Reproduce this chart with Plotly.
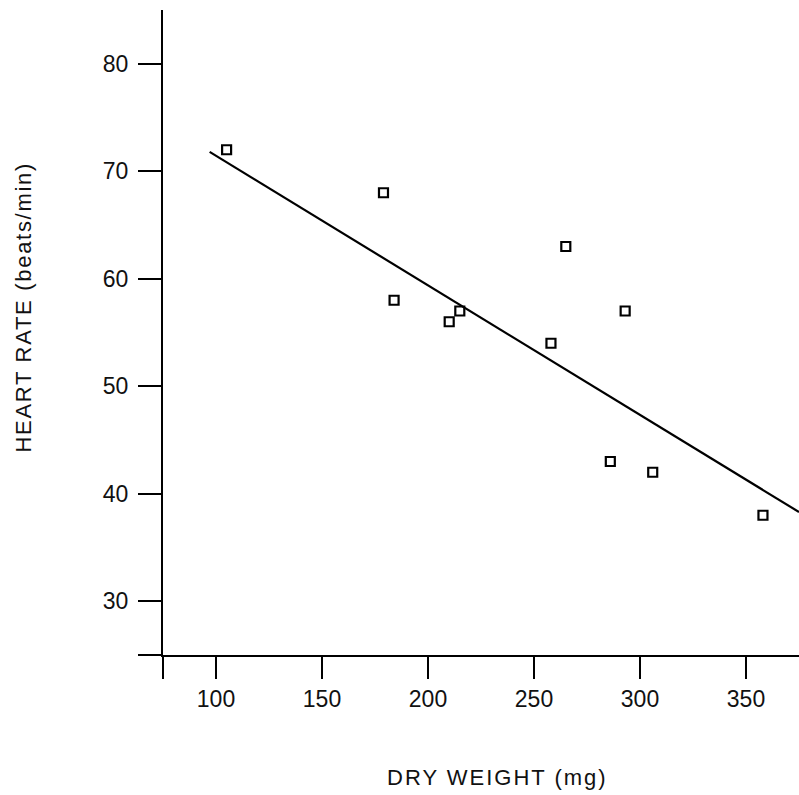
import plotly.graph_objects as go

# Data
dry_weight = [105, 179, 184, 210, 215, 258, 265, 293, 286, 306, 358]
heart_rate = [72, 68, 58, 56, 57, 54, 63, 57, 43, 42, 38]

fit_x = [97, 375]
fit_y = [71.8, 38.3]

x_tickvals = [75, 100, 150, 200, 250, 300, 350]
x_ticktext = ["", "100", "150", "200", "250", "300", "350"]
y_tickvals = [25, 30, 40, 50, 60, 70, 80]
y_ticktext = ["", "30", "40", "50", "60", "70", "80"]

FONT = "Liberation Sans, Arial, Helvetica, sans-serif"

fig = go.Figure()
fig.add_trace(go.Scatter(
    x=fit_x, y=fit_y, mode="lines",
    line=dict(color="black", width=2.2),
    hoverinfo="skip", showlegend=False, cliponaxis=False,
))
fig.add_trace(go.Scatter(
    x=dry_weight, y=heart_rate, mode="markers",
    marker=dict(symbol="square-open", size=9, color="black",
                line=dict(color="black", width=2.2)),
    showlegend=False, cliponaxis=False,
))

fig.update_layout(
    width=799, height=795,
    margin=dict(l=163, r=0, t=10, b=140),
    paper_bgcolor="white", plot_bgcolor="white",
    font=dict(family=FONT, color="#111111", size=23),
    xaxis=dict(
        range=[75, 375], showgrid=False, zeroline=False,
        showline=True, linecolor="black", linewidth=2,
        ticks="outside", ticklen=22, tickwidth=2, tickcolor="black",
        tickvals=x_tickvals, ticktext=x_ticktext,
        tickfont=dict(size=23),
    ),
    yaxis=dict(
        range=[25, 85], showgrid=False, zeroline=False,
        showline=True, linecolor="black", linewidth=2,
        ticks="outside", ticklen=23, tickwidth=2, tickcolor="black",
        tickvals=y_tickvals, ticktext=y_ticktext,
        tickfont=dict(size=23), ticklabelstandoff=5,
    ),
    annotations=[
        dict(text="<span style='letter-spacing:2px'>DRY WEIGHT (mg)</span>",
             xref="paper", yref="paper",
             x=(497 - 163) / 636, y=(795 - 140 - 777.5) / 645,
             xanchor="center", yanchor="middle", showarrow=False,
             font=dict(size=22, family=FONT)),
        dict(text="<span style='letter-spacing:1.7px'>HEART RATE (beats/min)</span>",
             xref="paper", yref="paper",
             x=(23 - 163) / 636, y=(655 - 307.5) / 645,
             xanchor="center", yanchor="middle", textangle=-90, showarrow=False,
             font=dict(size=22, family=FONT)),
    ],
)

fig.write_html("out.html")
